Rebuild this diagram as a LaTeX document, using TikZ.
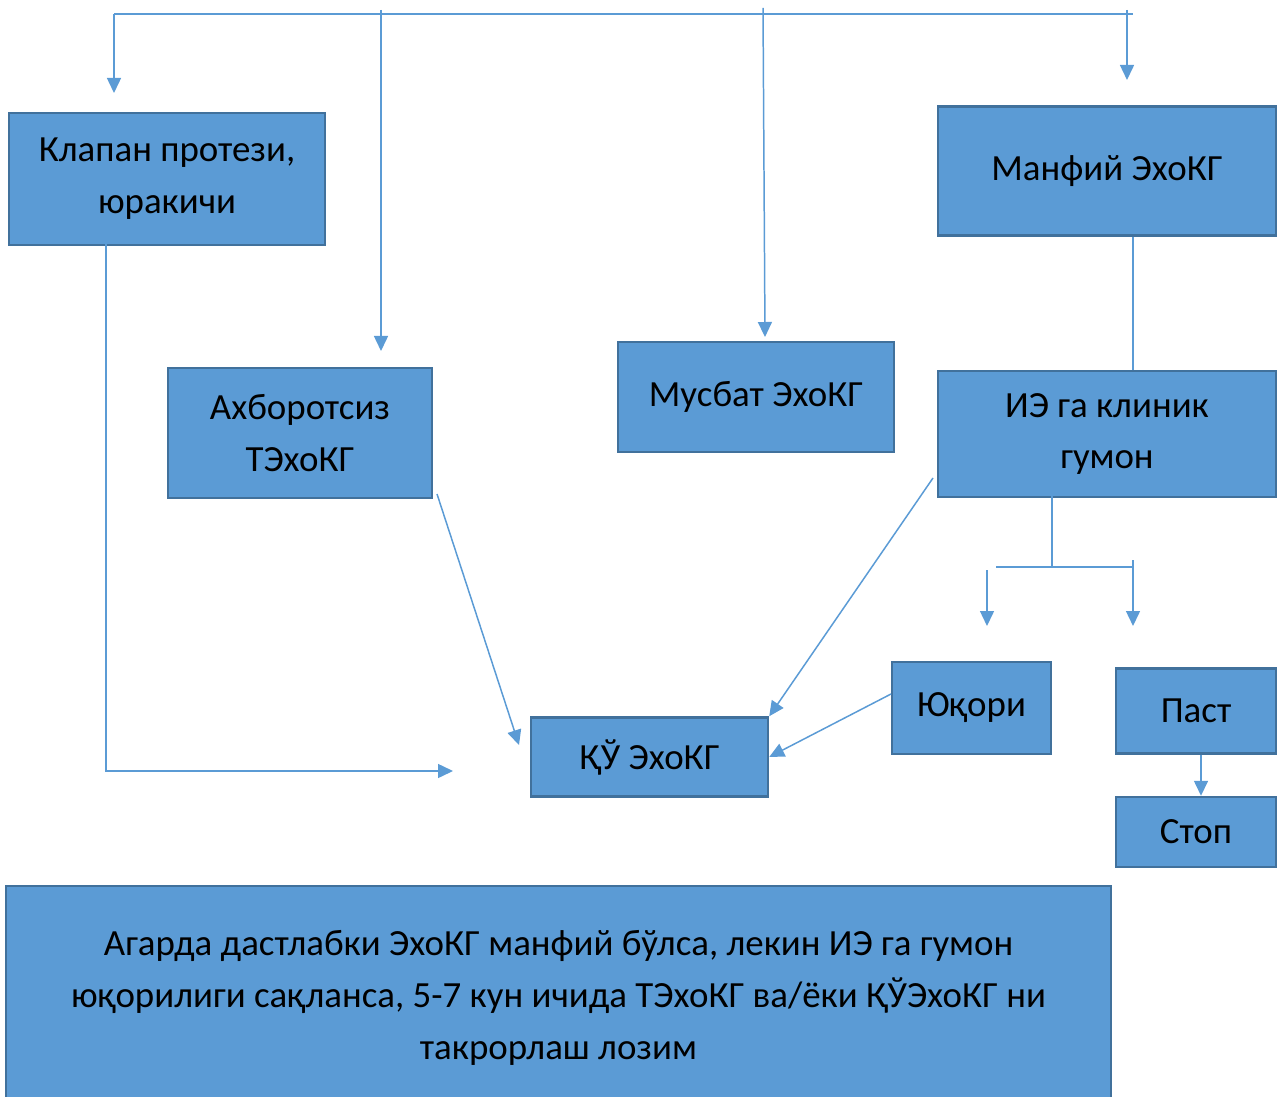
\documentclass[tikz,border=0pt]{standalone}
\usepackage{fontspec}
\setmainfont{Carlito}
\usepackage{tikz}
\usetikzlibrary{arrows.meta}
\usetikzlibrary{positioning}
\definecolor{ek-fill}{HTML}{5B9BD5}
\definecolor{ek-edge}{HTML}{41719C}
\definecolor{ek-line}{HTML}{5B9BD5}

\begin{document}
\begin{tikzpicture}[
    x=0.02cm, y=-0.02cm,
    font=\fontsize{21}{29.5}\selectfont,
    >={Triangle[length=0.3cm, width=0.28cm]}
  ]

  % Styles for boxes and connectors
  \tikzset{
    box/.style={draw=ek-edge, fill=ek-fill, line width=1.4pt, text=black, align=center, inner sep=2pt},
    link/.style={draw=ek-line, line width=0.85pt},
    flow/.style={link, ->}
  }

  \useasboundingbox (0,0) rectangle (1277,1097);
  \clip (0,0) rectangle (1277,1097);

  % Boxes
  \node (klapan)  [box, minimum width=6.32cm, minimum height=2.64cm] at (167,179) {Клапан протези,\\юракичи};
  \node (axborot) [box, minimum width=5.28cm, minimum height=2.6cm]  at (300,433) {Ахборотсиз\\ТЭхоКГ};
  \node (musbat)  [box, minimum width=5.52cm, minimum height=2.2cm]  at (756,397) {Мусбат ЭхоКГ};
  \node (manfiy)  [box, minimum width=6.76cm, minimum height=2.58cm] at (1107,171) {Манфий ЭхоКГ};
  \node (gumon)   [box, minimum width=6.76cm, minimum height=2.52cm] at (1107,434) {ИЭ га клиник\\гумон};
  \node (qu)      [box, minimum width=4.74cm, minimum height=1.58cm] at (649.5,757) {ҚЎ ЭхоКГ};
  \node (yuqori)  [box, minimum width=3.18cm, minimum height=1.84cm] at (971.5,708) {Юқори};
  \node (past)    [box, minimum width=3.2cm,  minimum height=1.7cm]  at (1196,711) {Паст};
  \node (stop)    [box, minimum width=3.2cm,  minimum height=1.4cm]  at (1196,832) {Стоп};
  \node (izoh)    [box, minimum width=22.1cm, minimum height=4.48cm] at (558.5,998)
      {Агарда дастлабки ЭхоКГ манфий бўлса, лекин ИЭ га гумон\\юқорилиги сақланса, 5-7 кун ичида ТЭхоКГ ва/ёки ҚЎЭхоКГ ни\\такрорлаш лозим};

  % Top bus with its drops
  \coordinate (busL) at (114,14);
  \coordinate (busR) at (1133,14);
  \coordinate (busA) at (381,10);
  \coordinate (busB) at (763,8);
  \coordinate (busC) at (1127,10);
  \coordinate (toKlapan)  at (114,93);
  \coordinate (toAxborot) at (381,351);
  \coordinate (toMusbat)  at (765,337);
  \coordinate (toManfiy)  at (1127,80);
  \draw[link] (busL) -- (busR);
  \draw[flow] (busL) -- (toKlapan);
  \draw[flow] (busA) -- (toAxborot);
  \draw[flow] (busB) -- (toMusbat);
  \draw[flow] (busC) -- (toManfiy);

  % Into the QU EchoCG box
  \coordinate (kBot)  at (106,243);
  \coordinate (kEnd)  at (453,771);
  \draw[flow] (kBot) |- (kEnd);
  \coordinate (aOut) at (437,494);
  \coordinate (aEnd) at (519,745);
  \draw[flow] (aOut) -- (aEnd);
  \coordinate (gOut) at (933,478);
  \draw[flow] (gOut) -- (qu.north east);
  \coordinate (yOut) at (891,694);
  \draw[flow] (yOut) -- (qu.east);

  % Manfiy to gumon
  \draw[link] (manfiy.south -| 1133,0) -- (gumon.north -| 1133,0);

  % Split below gumon
  \coordinate (sTop) at (1052,495);
  \coordinate (sMid) at (1052,567);
  \coordinate (sL) at (996,567);
  \coordinate (sR) at (1134,567);
  \coordinate (dL) at (987,570);
  \coordinate (dR) at (1133,560);
  \coordinate (toYuqori) at (987,626);
  \coordinate (toPast)   at (1133,626);
  \draw[link] (sTop) -- (sMid);
  \draw[link] (sL) -- (sR);
  \draw[flow] (dL) -- (toYuqori);
  \draw[flow] (dR) -- (toPast);

  % Past to stop
  \draw[flow] (past.south -| 1201,0) -- (stop.north -| 1201,0);

\end{tikzpicture}
\end{document}
